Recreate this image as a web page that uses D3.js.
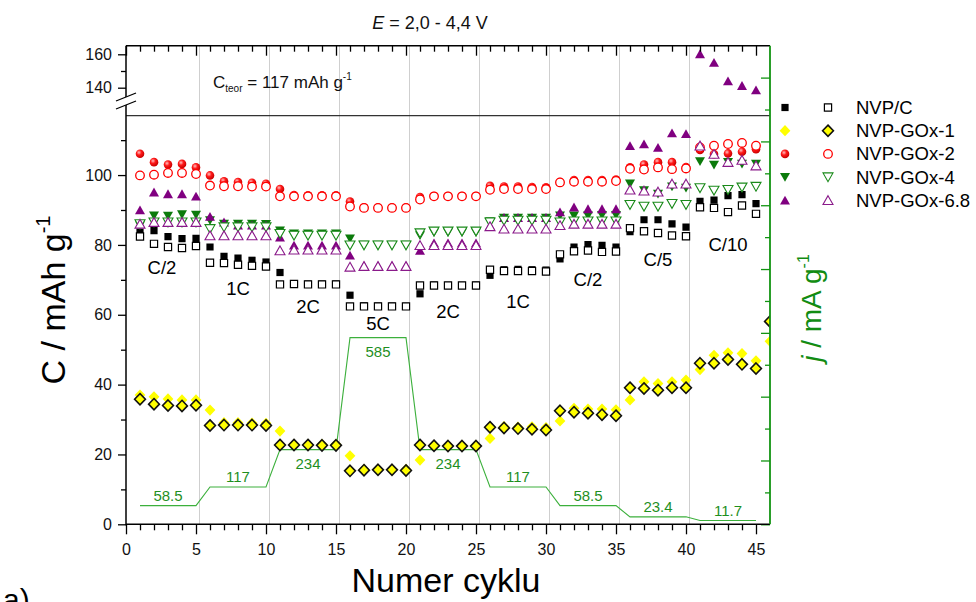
<!DOCTYPE html>
<html><head><meta charset="utf-8">
<script src="https://cdn.jsdelivr.net/npm/d3@7"></script>
<style>
body{margin:0;background:#fff}
svg{display:block}
text{font-family:"Liberation Sans",Arial,Helvetica,sans-serif}
</style>
</head><body>
<svg id="c" width="976" height="602"></svg>
<script>
// ---------------- DATA ----------------
const cycles = [1,2,3,4,5,6,7,8,9,10,11,12,13,14,15,16,17,18,19,20,21,22,23,24,25,26,27,28,29,30,31,32,33,34,35,36,37,38,39,40,41,42,43,44,45];
const seriesNames = ["NVP/C","NVP-GOx-1","NVP-GOx-2","NVP-GOx-4","NVP-GOx-6.8"];

const nvpC_charge = [83.7,84.1,82.4,81.8,81.9, 79.4,76.7,76.2,75.6,75.1, 72.1,68.9,68.8,68.8,68.8, 65.6,62.6,62.5,62.5,62.4, 66.0,68.5,68.4,68.4,68.5, 71.3,72.9,73.0,72.9,72.8, 76.0,79.4,80.1,79.9,79.4, 83.8,87.2,87.2,86.0,85.1, 92.5,92.8,94.1,94.4,91.8];
const nvpC_discharge = [82.4,80.3,79.4,79.1,79.7, 74.9,74.8,74.3,74.0,73.8, 68.7,68.8,68.7,68.7,68.7, 62.4,62.4,62.4,62.4,62.4, 68.4,68.4,68.4,68.4,68.4, 72.9,72.5,72.5,72.5,72.4, 77.3,78.2,78.4,78.0,78.1, 84.8,83.9,83.4,82.7,82.5, 90.8,90.6,89.4,91.3,88.9];

const gox1_cycles = [1,2,3,4,5,6,7,8,9,10,11,12,13,14,15,16,17,18,19,20,21,22,23,24,25,26,27,28,29,30,31,32,33,34,35,36,37,38,39,40,41,42,43,44,45,46];
const gox1_charge = [37.0,36.5,35.9,35.6,35.6, 32.7,29.1,29.1,29.0,28.9, 26.7,22.9,22.9,22.9,22.9, 19.6,15.7,15.7,15.7,15.7, 18.4,22.6,22.6,22.6,22.6, 24.6,28.0,27.8,27.9,27.7, 29.6,33.2,33.0,33.0,32.8, 35.6,40.8,40.3,40.8,41.3, 44.3,48.4,49.1,48.9,46.8, 52.4];
const gox1_discharge = [35.8,34.4,34.0,33.9,34.1, 28.3,28.4,28.4,28.4,28.3, 22.7,22.7,22.7,22.6,22.6, 15.3,15.5,15.6,15.6,15.4, 22.7,22.5,22.4,22.4,22.4, 27.8,27.6,27.4,27.2,27.0, 32.5,32.1,31.8,31.4,31.1, 39.1,38.9,38.4,39.1,39.1, 46.1,46.1,47.2,45.8,44.6, 58.1];

const gox2_charge = [106.1,103.7,103.0,103.2,102.2, 99.9,98.2,98.0,97.8,97.5, 96.0,94.3,94.2,94.2,94.2, 92.4,90.8,90.7,90.7,90.7, 93.7,94.0,94.0,94.0,94.0, 96.9,96.7,96.7,96.6,96.5, 98.0,98.6,98.6,98.6,98.7, 102.2,103.0,103.7,103.7,102.3, 107.2,106.0,106.2,106.7,107.4];
const gox2_discharge = [99.9,100.1,100.6,100.6,100.3, 97.0,96.8,96.8,96.7,96.7, 93.9,93.9,93.9,93.9,93.9, 91.0,90.6,90.6,90.6,90.6, 93.0,93.9,93.9,93.9,93.9, 95.8,96.0,96.0,96.0,96.0, 97.9,98.1,98.1,98.1,98.3, 101.8,101.6,102.2,101.7,101.9, 107.9,108.4,108.9,109.2,108.4];

const gox4_charge = [85.6,88.4,88.3,88.7,88.6, 87.0,86.0,86.0,86.0,85.9, 84.1,83.2,83.2,83.2,83.2, 81.8,80.0,80.0,80.0,80.0, 82.7,83.6,83.6,83.6,83.6, 86.7,87.7,87.7,87.7,87.7, 88.4,88.4,88.4,88.5,88.5, 97.5,95.6,94.6,96.7,96.3, 103.9,102.9,103.7,103.2,103.2];
const gox4_discharge = [86.0,86.5,86.5,86.5,86.5, 84.6,85.1,85.1,85.1,85.1, 83.2,82.7,82.7,82.7,82.7, 79.9,79.9,79.9,79.9,79.9, 83.4,83.9,83.9,83.9,83.9, 86.5,87.0,87.0,87.0,87.0, 86.5,86.8,86.8,86.8,86.8, 91.5,91.0,91.0,91.8,91.5, 96.3,95.6,95.8,96.5,96.7];

const gox68_charge = [90.0,95.1,94.6,94.6,93.9, 88.1,86.5,85.6,85.6,85.6, 82.2,79.9,79.9,79.9,79.9, 77.0,74.0,74.0,74.0,74.0, 78.4,80.5,80.5,80.5,80.5, 85.5,87.8,87.8,87.8,87.8, 89.4,90.8,90.3,90.3,90.3, 108.4,108.9,107.9,112.0,111.8, 160.2,155.0,144.0,141.2,138.6];
const gox68_discharge = [86.0,86.5,86.5,86.5,86.5, 82.7,82.7,82.7,82.7,82.7, 78.4,78.6,78.6,78.6,78.6, 73.7,73.9,73.9,73.9,73.9, 79.9,79.9,79.9,79.9,79.9, 85.3,84.6,84.6,84.6,84.6, 85.6,86.0,86.0,86.0,86.0, 95.8,95.5,95.2,97.5,97.5, 108.4,106.0,103.7,104.3,102.7];

// current density per cycle (mA/g)
const currentJ = [58.5,58.5,58.5,58.5,58.5, 117,117,117,117,117, 234,234,234,234,234, 585,585,585,585,585, 234,234,234,234,234, 117,117,117,117,117, 58.5,58.5,58.5,58.5,58.5, 23.4,23.4,23.4,23.4,23.4, 11.7,11.7,11.7,11.7,11.7];

// step annotations
const stepCenters = [3,8,13,18,23,28,33,38,43];
const rateLabels = ["C/2","1C","2C","5C","2C","1C","C/2","C/5","C/10"];
const rateLabelC = [73.4,67.4,62.5,57.4,60.8,63.7,70.2,75.9,80.2];
const jLabels = ["58.5","117","234","585","234","117","58.5","23.4","11.7"];
const jLabelValues = [58.5,117,234,585,234,117,58.5,23.4,11.7];
const stepBoundaries = [5.25,10.25,15.25,20.25,25.25,30.25,35.25,40.25];

const xMajorTicks = [0,5,10,15,20,25,30,35,40,45];
const yMajorTicks = [0,20,40,60,80,100];
const yMinorTicks = [10,30,50,70,90,110];
const yTopMajorTicks = [140,160];
const yTopMinorTicks = [150];
const jMajorTicks = [0,200,400,600,800,1000,1200,1400];
const jMinorTicks = [100,300,500,700,900,1100,1300];

// ---------------- LAYOUT ----------------
const svg = d3.select("#c");
const L = 126, R = 770, T = 45.7, B = 524.3, BRK = 115.7;
const x = d3.scaleLinear([0,46],[L,R]);
const y = d3.scaleLinear([0,117],[B,BRK]);
const yTop = d3.scaleLinear([140,160],[87.7,54.3]);
const yJ = d3.scaleLinear([0,1500],[B,T]);

const GREEN = "#129412";

const defs = svg.append("defs");
const rg = defs.append("radialGradient").attr("id","sph").attr("cx","38%").attr("cy","35%").attr("r","65%");
rg.append("stop").attr("offset","0%").attr("stop-color","#ffc0c0");
rg.append("stop").attr("offset","45%").attr("stop-color","#ff1a1a");
rg.append("stop").attr("offset","100%").attr("stop-color","#c80000");
defs.append("clipPath").attr("id","clipMain").append("rect").attr("x",L).attr("y",BRK).attr("width",R-L).attr("height",B-BRK);
defs.append("clipPath").attr("id","clipTop").append("rect").attr("x",L).attr("y",T).attr("width",R-L).attr("height",BRK-T);

// grid lines
svg.append("g").selectAll("line").data(stepBoundaries).join("line")
  .attr("x1",d=>x(d)).attr("x2",d=>x(d)).attr("y1",T).attr("y2",B)
  .attr("stroke","#cfcfcf").attr("stroke-width",1);

// break line between panels
svg.append("line").attr("x1",L).attr("x2",R).attr("y1",BRK).attr("y2",BRK).attr("stroke","#333").attr("stroke-width",1.2);

// current line
const jLine = d3.line().x((d,i)=>x(cycles[i])).y(d=>yJ(d));
svg.append("path").datum(currentJ).attr("d",jLine).attr("fill","none").attr("stroke","#3cb03c").attr("stroke-width",1.1);

// j labels
svg.append("g").selectAll("text").data(jLabels).join("text")
  .attr("x",(d,i)=>x(stepCenters[i]))
  .attr("y",(d,i)=>{const v=jLabelValues[i]; return (v===234||v===585)? yJ(v)+14 : yJ(v)-10;})
  .attr("text-anchor","middle").attr("dominant-baseline","central")
  .attr("font-size",15).attr("fill","#1f8f1f").text(d=>d);

// rate labels
svg.append("g").selectAll("text").data(rateLabels).join("text")
  .attr("x",(d,i)=>x(stepCenters[i])-(i===0?6:0))
  .attr("y",(d,i)=>y(rateLabelC[i]))
  .attr("text-anchor","middle").attr("dominant-baseline","central")
  .attr("font-size",18.5).attr("fill","#000").text(d=>d);

// ---------------- MARKERS ----------------
function shapePath(kind){
  switch(kind){
    case "square": return "M-3.6,-3.6H3.6V3.6H-3.6Z";
    case "diamond": return "M0,-5.6L5.4,0L0,5.6L-5.4,0Z";
    case "circle": return "M4.3,0A4.3,4.3 0 1,1 -4.3,0A4.3,4.3 0 1,1 4.3,0Z";
    case "down": return "M-5,-4.2H5L0,4.6Z";
    case "up": return "M0,-4.6L5,4.2H-5Z";
  }
}
const styles = {
  "NVP/C":      {kind:"square",  fFill:"#000", oStroke:"#000", oFill:"#fff", ow:1.2},
  "NVP-GOx-1":  {kind:"diamond", fFill:"#ffff00", oStroke:"#111", oFill:"#ffff00", ow:1.6},
  "NVP-GOx-2":  {kind:"circle",  fFill:"url(#sph)", oStroke:"#ff0000", oFill:"#fff", ow:1.3},
  "NVP-GOx-4":  {kind:"down",    fFill:"#0b7a0b", oStroke:"#1a8a1a", oFill:"#fff", ow:1.1},
  "NVP-GOx-6.8":{kind:"up",      fFill:"#800080", oStroke:"#8a1a8a", oFill:"#fff", ow:1.1}
};
const chargeSets = [[nvpC_charge,cycles],[gox1_charge,gox1_cycles],[gox2_charge,cycles],[gox4_charge,cycles],[gox68_charge,cycles]];
const dischargeSets = [[nvpC_discharge,cycles],[gox1_discharge,gox1_cycles],[gox2_discharge,cycles],[gox4_discharge,cycles],[gox68_discharge,cycles]];

const gMain = svg.append("g").attr("clip-path","url(#clipMain)");
const gTop = svg.append("g").attr("clip-path","url(#clipTop)");

function drawSet(vals, cyc, name, filled){
  const st = styles[name];
  const pts = vals.map((v,i)=>({c:cyc[i], v}));
  const main = pts.filter(p=>p.v<=117), top = pts.filter(p=>p.v>117);
  [[gMain,main,y],[gTop,top,yTop]].forEach(([g,arr,sc])=>{
    g.append("g").selectAll("path").data(arr).join("path")
      .attr("d",shapePath(st.kind))
      .attr("transform",p=>`translate(${x(p.c)},${sc(p.v)})`)
      .attr("fill",filled?st.fFill:st.oFill)
      .attr("stroke",filled?"none":st.oStroke)
      .attr("stroke-width",filled?0:st.ow);
  });
}
seriesNames.forEach((n,i)=>drawSet(chargeSets[i][0],chargeSets[i][1],n,true));
seriesNames.forEach((n,i)=>drawSet(dischargeSets[i][0],dischargeSets[i][1],n,false));

// ---------------- AXES ----------------
function styleAxis(g,color){
  g.select(".domain").remove();
  g.selectAll("line").attr("stroke",color).attr("stroke-width",1.3);
  g.selectAll("text").attr("font-size",16).attr("fill","#111").attr("font-family","Liberation Sans, Arial, sans-serif");
}
svg.append("g").attr("transform",`translate(0,${B})`)
  .call(d3.axisBottom(x).tickValues(cycles.filter(c=>!xMajorTicks.includes(c))).tickSize(6).tickFormat(""))
  .call(g=>styleAxis(g,"#000"));
svg.append("g").attr("transform",`translate(0,${B})`)
  .call(d3.axisBottom(x).tickValues(xMajorTicks).tickSize(10).tickPadding(9))
  .call(g=>styleAxis(g,"#000"));
svg.append("g").attr("transform",`translate(0,${T})`)
  .call(d3.axisTop(x).tickValues(cycles.filter(c=>!xMajorTicks.includes(c))).tickSize(-6).tickFormat(""))
  .call(g=>styleAxis(g,"#000"));
svg.append("g").attr("transform",`translate(0,${T})`)
  .call(d3.axisTop(x).tickValues(xMajorTicks).tickSize(-10).tickFormat(""))
  .call(g=>styleAxis(g,"#000"));
svg.append("g").attr("transform",`translate(${L},0)`)
  .call(d3.axisLeft(y).tickValues(yMinorTicks).tickSize(5).tickFormat(""))
  .call(g=>styleAxis(g,"#000"));
svg.append("g").attr("transform",`translate(${L},0)`)
  .call(d3.axisLeft(y).tickValues(yMajorTicks).tickSize(8).tickPadding(6))
  .call(g=>styleAxis(g,"#000"));
svg.append("g").attr("transform",`translate(${L},0)`)
  .call(d3.axisLeft(yTop).tickValues(yTopMinorTicks).tickSize(5).tickFormat(""))
  .call(g=>styleAxis(g,"#000"));
svg.append("g").attr("transform",`translate(${L},0)`)
  .call(d3.axisLeft(yTop).tickValues(yTopMajorTicks).tickSize(8).tickPadding(6))
  .call(g=>styleAxis(g,"#000"));
svg.append("g").attr("transform",`translate(${R},0)`)
  .call(d3.axisRight(yJ).tickValues(jMinorTicks).tickSize(-5).tickFormat(""))
  .call(g=>styleAxis(g,GREEN));
svg.append("g").attr("transform",`translate(${R},0)`)
  .call(d3.axisRight(yJ).tickValues(jMajorTicks).tickSize(-9).tickFormat(""))
  .call(g=>styleAxis(g,GREEN));

svg.append("line").attr("x1",L).attr("x2",R).attr("y1",B).attr("y2",B).attr("stroke","#000").attr("stroke-width",1.5);
svg.append("line").attr("x1",L).attr("x2",R).attr("y1",T).attr("y2",T).attr("stroke","#000").attr("stroke-width",1.5);
svg.append("line").attr("x1",L).attr("x2",L).attr("y1",T).attr("y2",B+1).attr("stroke","#000").attr("stroke-width",1.5);
svg.append("line").attr("x1",R).attr("x2",R).attr("y1",T).attr("y2",B).attr("stroke",GREEN).attr("stroke-width",1.8);

// axis break marks
svg.append("path").attr("d",`M${L-10},${101}L${L+10},${93}L${L+10},${101}L${L-10},${109}Z`).attr("fill","#fff");
svg.append("line").attr("x1",L-10).attr("y1",101).attr("x2",L+10).attr("y2",93).attr("stroke","#000").attr("stroke-width",1.3);
svg.append("line").attr("x1",L-10).attr("y1",109).attr("x2",L+10).attr("y2",101).attr("stroke","#000").attr("stroke-width",1.3);

// ---------------- TEXTS ----------------
const title = svg.append("text").attr("x",430).attr("y",29).attr("text-anchor","middle").attr("font-size",18).attr("fill","#111");
title.append("tspan").attr("font-style","italic").text("E");
title.append("tspan").text(" = 2,0 - 4,4 V");

const ct = svg.append("text").attr("x",213).attr("y",88).attr("font-size",17).attr("fill","#111");
ct.append("tspan").text("C");
ct.append("tspan").attr("font-size",10).attr("dy",4).text("teor");
ct.append("tspan").attr("dy",-4).text(" = 117 mAh g");
ct.append("tspan").attr("font-size",10).attr("dy",-8).text("-1");

const yl = svg.append("text").attr("transform","translate(65,300) rotate(-90)").attr("text-anchor","middle").attr("font-size",34).attr("fill","#000");
yl.append("tspan").text("C / mAh g");
yl.append("tspan").attr("font-size",20).attr("dy",-15).text("-1");

const jl = svg.append("text").attr("transform","translate(821,308) rotate(-90)").attr("text-anchor","middle").attr("font-size",28).attr("fill","#128c12");
jl.append("tspan").attr("font-style","italic").text("j");
jl.append("tspan").text(" / mA g");
jl.append("tspan").attr("font-size",16).attr("dy",-12).text("-1");

svg.append("text").attr("x",446).attr("y",592).attr("text-anchor","middle").attr("font-size",34).attr("fill","#000").text("Numer cyklu");
svg.append("text").attr("x",3).attr("y",610).attr("font-size",30).attr("font-family","Liberation Serif, serif").attr("fill","#000").text("a)");

// legend
const lg = svg.append("g");
seriesNames.forEach((n,i)=>{
  const st = styles[n], yy = 107.5 + 23.2*i;
  lg.append("path").attr("d",shapePath(st.kind)).attr("transform",`translate(785,${yy})`).attr("fill",st.fFill);
  lg.append("path").attr("d",shapePath(st.kind)).attr("transform",`translate(828,${yy})`).attr("fill",st.oFill).attr("stroke",st.oStroke).attr("stroke-width",st.ow);
  lg.append("text").attr("x",856).attr("y",yy).attr("dominant-baseline","central").attr("font-size",18.5).attr("fill","#000").text(n);
});
</script>
</body></html>
